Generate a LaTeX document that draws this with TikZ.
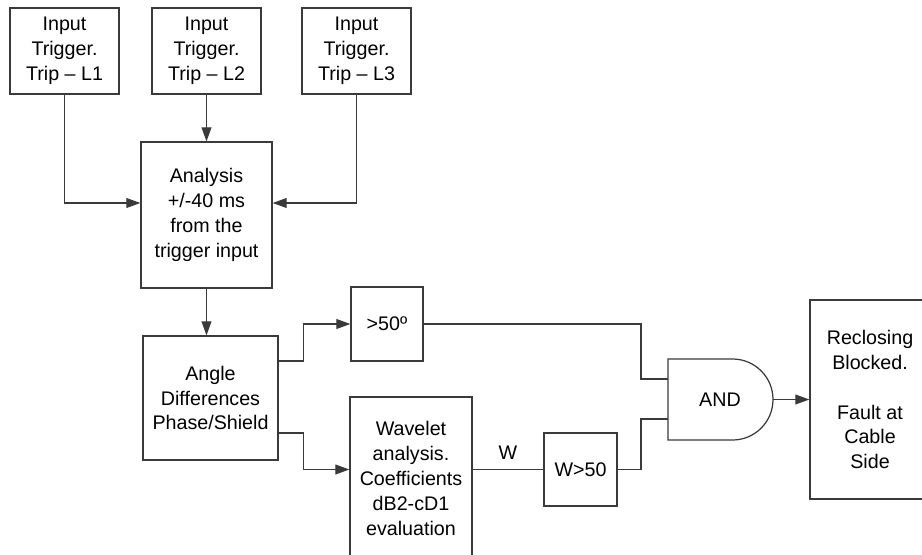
\documentclass[tikz,border=0pt]{standalone}
\usepackage{fontspec}
\setmainfont{Liberation Sans}
\usetikzlibrary{arrows.meta,positioning}
\definecolor{linegray}{HTML}{3A3A3A}

\begin{document}
\begin{tikzpicture}[
    font=\fontsize{11.2}{14.2}\selectfont,
    blk/.style={rectangle,draw=linegray,line width=0.7pt,align=center,inner sep=0pt},
    wire/.style={draw=linegray,line width=0.7pt},
    arr/.style={wire,-{Triangle[length=8pt,width=5.6pt]}}
    ]
    \clip (0,0) rectangle (18.44,-11.08);
    \useasboundingbox (0,0) rectangle (18.44,-11.08);

    \node[blk,minimum width=2.18cm,minimum height=1.72cm] (L1) at (1.29,-1.02) {Input\\Trigger.\\Trip -- L1};
    \node[blk,minimum width=2.18cm,minimum height=1.72cm] (L2) at (4.13,-1.02) {Input\\Trigger.\\Trip -- L2};
    \node[blk,minimum width=2.18cm,minimum height=1.72cm] (L3) at (7.13,-1.02) {Input\\Trigger.\\Trip -- L3};
    \node[blk,minimum width=2.62cm,minimum height=2.92cm] (ana) at (4.13,-4.30) {Analysis\\+/-40 ms\\from the\\trigger input};
    \node[blk,minimum width=2.70cm,minimum height=2.48cm] (ang) at (4.21,-7.96) {Angle\\Differences\\Phase/Shield};
    \node[blk,minimum width=1.44cm,minimum height=1.48cm] (gt) at (7.74,-6.48) {>50º};
    \node[blk,minimum width=2.44cm,minimum height=3.26cm] (wav) at (8.22,-9.57) {Wavelet\\analysis.\\Coefficients\\dB2-cD1\\evaluation};
    \node[blk,minimum width=1.46cm,minimum height=1.46cm] (wgt) at (11.61,-9.39) {W>50};
    \node[blk,minimum width=2.40cm,minimum height=3.98cm] (rec) at (17.40,-7.99) {Reclosing\\Blocked.\\[14.2pt]Fault at\\Cable\\Side};

    % AND gate
    \node (andg) at (14.40,-7.99) {AND};
    \draw[wire] (13.36,-7.18) -- (14.65,-7.18) arc (90:-90:0.81) -- (13.36,-8.80) -- cycle;
    \coordinate (andin1) at (13.36,-7.58);
    \coordinate (andin2) at (13.36,-8.38);
    \coordinate (andout) at (15.46,-7.99);

    \draw[arr] (L1.south) |- ([yshift=2.4mm]ana.west);
    \draw[arr] (L2.south) -- (ana.north);
    \draw[arr] (L3.south) |- ([yshift=2.4mm]ana.east);
    \draw[arr] (ana.south) -- (ana.south |- ang.north);
    \draw[arr] ([yshift=7.4mm]ang.east) -- ++(0.5,0) |- (gt.west);
    \draw[arr] ([yshift=-7.0mm]ang.east) -- ++(0.5,0) |- (wav.west |- wgt.west);
    \draw[wire] (wav.east |- wgt.west) -- node[above=2pt] (wlab) {W} (wgt.west);
    \draw[wire] (gt.east) -| ([xshift=-5.4mm]andin1) -- (andin1);
    \draw[wire] (wgt.east) -| ([xshift=-5.4mm]andin2) -- (andin2);
    \draw[arr] (andout) -- (rec.west);
\end{tikzpicture}
\end{document}
